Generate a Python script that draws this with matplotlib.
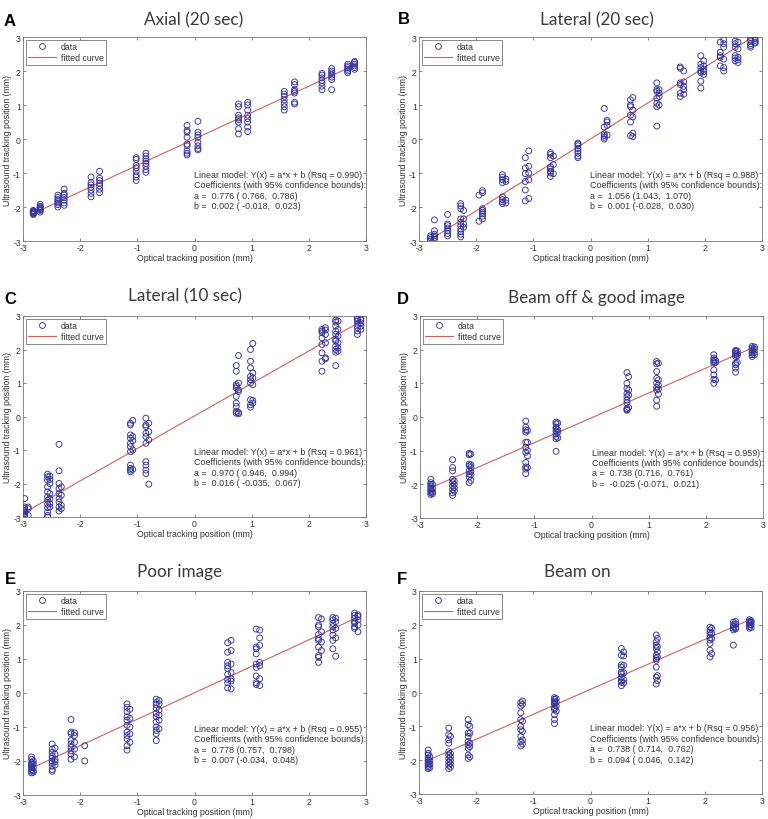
import numpy as np
import matplotlib
matplotlib.use("Agg")
import matplotlib.pyplot as plt
from matplotlib.lines import Line2D

plt.rcParams["font.family"] = ["Liberation Sans", "DejaVu Sans"]
plt.rcParams["axes.unicode_minus"] = False

W, H = 768, 820

# ---- data: cluster x positions and the y values stacked at each ----
A_X = [-2.82, -2.70, -2.39, -2.28, -1.81, -1.66, -1.02, -0.85, -0.13, 0.06,
       0.77, 0.93, 1.57, 1.75, 2.23, 2.40, 2.68, 2.80]
A_Y = [
    [-2.10, -2.13, -2.15, -2.18, -2.20, -2.12, -2.17, -2.22],
    [-1.92, -1.98, -2.03, -2.08, -2.00, -2.05, -2.10, -2.15],
    [-1.65, -1.72, -1.78, -1.83, -1.88, -1.93, -2.00],
    [-1.47, -1.60, -1.65, -1.72, -1.80, -1.88, -1.95],
    [-1.12, -1.28, -1.35, -1.42, -1.50, -1.60, -1.70],
    [-0.95, -1.15, -1.22, -1.30, -1.38, -1.48, -1.58],
    [-0.55, -0.60, -0.78, -0.85, -0.95, -1.05, -1.12, -1.22],
    [-0.42, -0.50, -0.58, -0.65, -0.72, -0.80, -0.90, -0.98],
    [0.40, 0.25, 0.20, 0.05, -0.15, -0.20, -0.35, -0.42, -0.47],
    [0.52, 0.20, 0.12, 0.05, -0.10, -0.20, -0.28, -0.32],
    [1.03, 0.95, 0.70, 0.62, 0.57, 0.50, 0.30, 0.15],
    [1.08, 1.00, 0.85, 0.70, 0.60, 0.50, 0.35, 0.22],
    [1.40, 1.32, 1.25, 1.15, 1.05, 0.95, 0.85],
    [1.68, 1.60, 1.45, 1.40, 1.35, 1.08, 1.03],
    [1.93, 1.88, 1.80, 1.72, 1.65, 1.55, 1.45],
    [2.07, 2.00, 1.95, 1.88, 1.82, 1.75, 1.45],
    [2.20, 2.15, 2.10, 2.05, 2.00, 1.95],
    [2.28, 2.25, 2.20, 2.15, 2.10, 2.05],
]

B_X = [-2.80, -2.73, -2.50, -2.27, -2.22, -1.95, -1.89, -1.54, -1.48, -1.14,
       -1.08, -0.70, -0.65, -0.22, 0.24, 0.29, 0.70, 0.74, 1.16, 1.20,
       1.57, 1.63, 1.93, 1.98, 2.27, 2.33, 2.53, 2.58, 2.80, 2.88]
B_Y = [
    [-2.85, -2.90, -2.95, -3.00],
    [-2.38, -2.70, -2.80, -2.85, -2.90, -2.95],
    [-2.22, -2.50, -2.55, -2.62, -2.70, -2.78, -2.85],
    [-1.90, -1.97, -2.05, -2.35, -2.45, -2.55, -2.65, -2.72, -2.80, -2.88],
    [-2.10, -2.35, -2.50, -2.60],
    [-1.65, -2.42],
    [-1.52, -1.58, -2.05, -2.10, -2.15, -2.20, -2.27, -2.35],
    [-1.05, -1.12, -1.20, -1.28, -1.70, -1.78, -1.85, -1.90],
    [-1.18, -1.25, -1.80, -1.88],
    [-0.55, -0.85, -1.02, -1.25, -1.50, -1.82],
    [-0.35, -0.80, -1.00, -1.20, -1.75],
    [-0.40, -0.45, -0.55, -0.82, -0.88, -0.95, -1.00, -1.10],
    [-0.50, -0.75, -1.02],
    [-0.12, -0.15, -0.20, -0.28, -0.35, -0.42, -0.50, -0.55],
    [0.90, 0.35, 0.15, 0.10, 0.05, 0.00],
    [0.55, 0.50, 0.40, 0.12],
    [1.15, 1.00, 0.95, 0.70, 0.50, 0.10],
    [1.22, 0.85, 0.65, 0.17, 0.07],
    [1.65, 1.45, 1.40, 1.20, 1.05, 0.95, 0.38],
    [1.45, 1.35, 1.25, 1.00],
    [2.12, 2.08, 1.65, 1.60, 1.35, 1.25],
    [2.00, 1.68, 1.55, 1.45, 1.32],
    [2.45, 2.20, 2.10, 2.00, 1.95, 1.70, 1.50],
    [2.30, 2.15, 2.05, 1.98, 1.90],
    [2.85, 2.55, 2.45, 2.40, 2.15],
    [2.92, 2.80, 2.70, 2.35, 2.10, 2.00],
    [2.88, 2.80, 2.70, 2.45, 2.38, 2.30],
    [2.85, 2.65, 2.40, 2.33, 2.25],
    [2.98, 2.90, 2.80, 2.75, 2.70],
    [2.95, 2.90, 2.85, 2.82],
]

C_X = [-2.97, -2.91, -2.57, -2.53, -2.37, -2.33, -1.12, -1.08, -0.85, -0.80,
       0.73, 0.77, 0.98, 1.02, 2.23, 2.29, 2.47, 2.51, 2.85, 2.91]
C_Y = [
    [-2.45, -2.70, -2.75, -2.80, -2.85, -2.90, -2.95, -3.00, -2.97],
    [-2.70, -2.75, -2.95],
    [-1.72, -1.80, -1.90, -2.10, -2.25, -2.40, -2.50, -2.62, -2.72, -2.85, -2.95, -3.00],
    [-1.78, -1.88, -2.00, -2.30, -2.45, -2.60, -2.70],
    [-0.83, -1.62, -2.00, -2.15, -2.30, -2.45, -2.55, -2.70, -2.82],
    [-2.10, -2.35, -2.65, -2.75],
    [-0.20, -0.25, -0.55, -0.65, -0.80, -0.90, -1.05, -1.45, -1.55, -1.60, -1.65],
    [-0.12, -0.60, -0.72, -1.00, -1.58],
    [-0.05, -0.25, -0.30, -0.50, -0.60, -0.80, -1.35, -1.45, -1.60, -1.70],
    [-0.20, -0.45, -0.70, -2.02],
    [1.52, 1.35, 0.95, 0.90, 0.85, 0.60, 0.40, 0.30, 0.15, 0.10],
    [1.82, 1.00, 0.80, 0.75, 0.12, 0.08],
    [2.00, 1.65, 1.45, 1.20, 1.10, 1.00, 0.50, 0.35, 0.28],
    [2.18, 1.30, 1.15, 0.95, 0.48, 0.40],
    [2.60, 2.55, 2.50, 2.35, 2.15, 1.90, 1.65, 1.35],
    [2.65, 2.58, 2.45, 2.20, 1.75, 1.72],
    [2.88, 2.82, 2.70, 2.55, 2.45, 2.30, 2.25, 2.10, 2.00, 1.92, 1.52],
    [2.85, 2.60, 2.40, 2.20, 2.05, 1.95],
    [2.95, 2.90, 2.85, 2.75, 2.65, 2.55, 2.45],
    [2.92, 2.88, 2.80, 2.70, 2.60],
]

D_X = [-2.81, -2.78, -2.43, -2.40, -2.14, -2.11, -1.15, -1.12, -0.62, -0.59,
       0.62, 0.65, 1.14, 1.17, 2.14, 2.17, 2.52, 2.55, 2.81, 2.85]
D_Y = [
    [-1.85, -1.95, -2.00, -2.05, -2.10, -2.15, -2.20, -2.25, -2.30],
    [-2.00, -2.12, -2.22, -2.28],
    [-1.27, -1.50, -1.60, -1.85, -1.95, -2.05, -2.15, -2.25, -2.33],
    [-1.90, -2.00, -2.10, -2.20],
    [-1.08, -1.12, -1.40, -1.45, -1.60, -1.70, -1.78, -1.95],
    [-1.10, -1.42, -1.50, -1.62, -1.72, -1.88],
    [-0.12, -0.30, -0.38, -0.45, -0.75, -0.90, -1.05, -1.35, -1.48, -1.55, -1.68],
    [-0.40, -0.75, -1.00, -1.15, -1.50],
    [-0.15, -0.20, -0.30, -0.35, -0.42, -0.50, -0.58, -0.65, -1.02],
    [-0.18, -0.38, -0.45, -0.62],
    [1.32, 1.00, 0.85, 0.70, 0.60, 0.50, 0.42, 0.25, 0.22, 0.20],
    [1.20, 0.80, 0.65, 0.28],
    [1.65, 1.58, 1.35, 1.15, 1.00, 0.88, 0.80, 0.50, 0.32],
    [1.60, 1.10, 0.95, 0.83, 0.68],
    [1.85, 1.75, 1.70, 1.65, 1.60, 1.40, 1.25, 1.12, 1.00],
    [1.68, 1.62, 1.10],
    [1.98, 1.95, 1.90, 1.85, 1.80, 1.60, 1.55, 1.45, 1.33],
    [1.96, 1.88, 1.82, 1.62],
    [2.10, 2.05, 2.00, 1.95, 1.90, 1.85, 1.80],
    [2.08, 2.02, 1.92, 1.85],
]

E_X = [-2.85, -2.82, -2.49, -2.44, -2.16, -2.10, -1.92, -1.18, -1.13, -0.67,
       -0.62, 0.58, 0.64, 1.08, 1.14, 2.17, 2.22, 2.42, 2.47, 2.80, 2.86]
E_Y = [
    [-1.88, -1.95, -2.05, -2.10, -2.15, -2.20, -2.25, -2.30, -2.35],
    [-2.00, -2.08, -2.18, -2.28, -2.33],
    [-1.50, -1.65, -1.75, -1.85, -1.92, -2.00, -2.05, -2.15, -2.25, -2.30],
    [-1.62, -1.80, -1.95, -2.02, -2.12],
    [-0.78, -1.15, -1.20, -1.40, -1.50, -1.60, -1.70, -1.80, -1.95],
    [-1.17, -1.25, -1.45, -1.65, -1.88],
    [-1.55, -2.00],
    [-0.32, -0.42, -0.55, -0.70, -0.80, -0.95, -1.15, -1.25, -1.35, -1.55, -1.68],
    [-0.48, -0.75, -1.00, -1.20, -1.45],
    [-0.18, -0.28, -0.35, -0.45, -0.60, -0.70, -0.85, -1.00, -1.10, -1.20, -1.40],
    [-0.22, -0.32, -0.50, -0.65, -0.80, -1.05],
    [1.48, 1.20, 0.90, 0.80, 0.72, 0.55, 0.40, 0.30, 0.15],
    [1.55, 1.25, 0.85, 0.60, 0.42, 0.35, 0.12],
    [1.88, 1.35, 1.30, 1.15, 0.85, 0.75, 0.50, 0.30, 0.25],
    [1.85, 1.62, 1.40, 0.90, 0.80, 0.42, 0.22],
    [2.22, 2.00, 1.95, 1.72, 1.60, 1.55, 1.35, 1.10, 1.05, 0.90],
    [2.18, 1.80, 1.50, 1.25],
    [2.22, 2.15, 2.05, 1.95, 1.85, 1.70, 1.55, 1.30],
    [2.20, 2.10, 1.90, 1.62, 1.08],
    [2.35, 2.28, 2.20, 2.10, 2.05, 1.95, 1.90],
    [2.30, 2.25, 2.15, 2.00, 1.80],
]

F_X = [-2.84, -2.81, -2.48, -2.45, -2.14, -2.11, -1.22, -1.19, -0.63, -0.60,
       0.54, 0.58, 1.15, 1.17, 2.09, 2.12, 2.50, 2.54, 2.78, 2.81]
F_Y = [
    [-1.70, -1.80, -1.85, -1.95, -2.00, -2.05, -2.10, -2.15, -2.20, -2.25],
    [-1.90, -2.02, -2.12, -2.22],
    [-1.05, -1.25, -1.40, -1.50, -1.75, -1.85, -1.95, -2.05, -2.15, -2.25],
    [-1.30, -1.80, -1.90, -2.00, -2.10, -2.20],
    [-0.80, -0.95, -1.20, -1.30, -1.45, -1.55, -1.65, -1.85, -1.95],
    [-1.00, -1.20, -1.50, -1.60, -1.90],
    [-0.30, -0.40, -0.60, -0.80, -1.00, -1.10, -1.30, -1.45, -1.58],
    [-0.25, -0.35, -0.85, -1.15, -1.40, -1.52],
    [-0.15, -0.20, -0.25, -0.30, -0.35, -0.45, -0.50, -0.65, -0.80, -0.92],
    [-0.18, -0.28, -0.40, -0.55],
    [1.30, 1.10, 0.82, 0.75, 0.60, 0.55, 0.45, 0.35, 0.30, 0.20],
    [1.20, 1.08, 0.80, 0.58, 0.38, 0.28],
    [1.70, 1.50, 1.40, 1.30, 1.10, 1.00, 0.95, 0.75, 0.45, 0.25],
    [1.60, 1.35, 1.20, 1.05, 0.50, 0.35],
    [1.93, 1.85, 1.78, 1.70, 1.62, 1.55, 1.45, 1.25, 1.05],
    [1.90, 1.75, 1.60, 1.15],
    [2.08, 2.00, 1.95, 1.90, 1.85, 1.40],
    [2.10, 2.02, 1.92, 1.88],
    [2.15, 2.10, 2.05, 2.00, 1.95, 1.90],
    [2.12, 2.08, 2.00, 1.92],
]

TITLES = ["Axial (20 sec)", "Lateral (20 sec)", "Lateral (10 sec)",
          "Beam off & good image", "Poor image", "Beam on"]
LETTERS = ["A", "B", "C", "D", "E", "F"]
SLOPES = [0.776, 1.056, 0.970, 0.738, 0.778, 0.738]
INTERCEPTS = [0.002, 0.001, 0.016, -0.025, 0.007, 0.094]
RSQ = ["0.990", "0.988", "0.961", "0.959", "0.955", "0.956"]
A_LINES = ["a =  0.776 ( 0.766,  0.786)", "a =  1.056 (1.043,  1.070)",
           "a =  0.970 ( 0.946,  0.994)", "a =  0.738 (0.716,  0.761)",
           "a =  0.778 (0.757,  0.798)", "a =  0.738 ( 0.714,  0.762)"]
B_LINES = ["b =  0.002 ( -0.018,  0.023)", "b =  0.001 (-0.028,  0.030)",
           "b =  0.016 ( -0.035,  0.067)", "b =  -0.025 (-0.071,  0.021)",
           "b =  0.007 (-0.034,  0.048)", "b =  0.094 ( 0.046,  0.142)"]

PANELS = [(A_X, A_Y), (B_X, B_Y), (C_X, C_Y), (D_X, D_Y), (E_X, E_Y), (F_X, F_Y)]

# axes boxes in pixels: left, top, right, bottom
BOXES = [(23, 38, 366, 242), (419, 38, 762, 242),
         (23, 317, 366, 518), (420, 317, 763, 519),
         (23, 592, 366, 796), (419, 592, 762, 795)]
TITLE_POS = [(194, 20), (597, 20), (185, 296), (597, 298), (180, 572), (577, 572)]
LETTER_POS = [(10, 21), (404, 20), (10, 299), (403, 300), (10, 580), (402, 580)]

BLUE = "#34349a"
RED = "#d0605e"
GRAY = "#333333"

fig = plt.figure(figsize=(W / 100, H / 100), dpi=100)
fig.patch.set_facecolor("white")

for i, ((cx, cy), box) in enumerate(zip(PANELS, BOXES)):
    l, t, r, b = box
    ax = fig.add_axes([l / W, 1 - b / H, (r - l) / W, (b - t) / H])
    xs = np.concatenate([[x] * len(ys) for x, ys in zip(cx, cy)])
    ys = np.concatenate(cy)
    ax.scatter(xs, ys, s=18, facecolors="none", edgecolors=BLUE, linewidths=0.65, zorder=3)

    fx = np.array([min(cx), max(cx)])
    ax.plot(fx, SLOPES[i] * fx + INTERCEPTS[i], color=RED, lw=0.8, zorder=2)

    ax.set_xlim(-3, 3)
    ax.set_ylim(-3, 3)
    ax.set_xticks(range(-3, 4))
    ax.set_yticks(range(-3, 4))
    ax.tick_params(direction="in", length=2.5, width=0.5, labelsize=6.3,
                   colors="#555555", labelcolor=GRAY, top=True, right=True, pad=1.5)
    for sp in ax.spines.values():
        sp.set_color("#777777")
        sp.set_linewidth(0.6)
    ax.set_xlabel("Optical tracking position (mm)", fontsize=6.3, color=GRAY, labelpad=1)
    ax.set_ylabel("Ultrasound tracking position (mm)", fontsize=6.3, color=GRAY, labelpad=1)

    handles = [Line2D([], [], ls="none", marker="o", mfc="none", mec=BLUE, ms=4.2, mew=0.65),
               Line2D([], [], color=RED, lw=0.8)]
    leg = ax.legend(handles, ["data", "fitted curve"], loc="upper left", fontsize=6.3,
                    frameon=True, fancybox=False, borderaxespad=0.3, handlelength=3.2,
                    borderpad=0.3, labelspacing=0.25, handletextpad=0.5)
    leg.get_frame().set_edgecolor("#555555")
    leg.get_frame().set_linewidth(0.6)
    for txt in leg.get_texts():
        txt.set_color(GRAY)

    lines = ["Linear model: Y(x) = a*x + b (Rsq = %s)" % RSQ[i],
             "Coefficients (with 95% confidence bounds):",
             A_LINES[i], B_LINES[i]]
    for k, line in enumerate(lines):
        ax.text(0.0, -1.04 - 0.31 * k, line, fontsize=6.4, color=GRAY, va="center", ha="left")

    tx, ty = TITLE_POS[i]
    fig.text(tx / W, 1 - ty / H, TITLES[i], fontsize=12.3, color="#3a3a3a",
             ha="center", va="center", family=["Lato", "DejaVu Sans"])
    lx, ly = LETTER_POS[i]
    fig.text(lx / W, 1 - ly / H, LETTERS[i], fontsize=12, fontweight="bold",
             color="black", ha="center", va="center")

fig.savefig("out.png", dpi=100, facecolor="white")
plt.close(fig)
